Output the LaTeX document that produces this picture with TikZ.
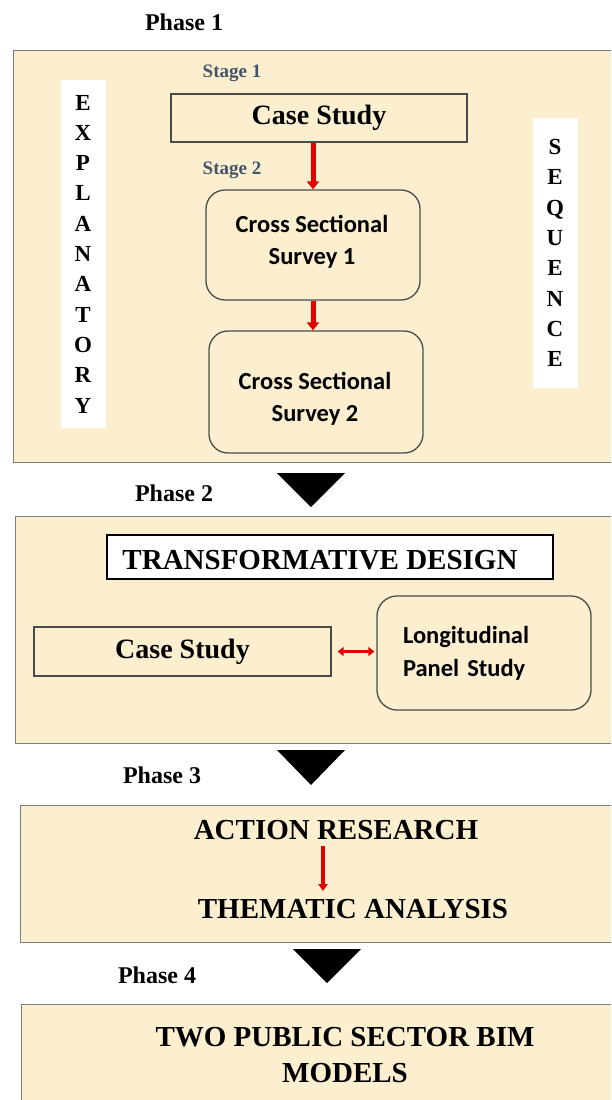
\documentclass[tikz,border=0pt]{standalone}
\usepackage{fontspec}
\setmainfont{Liberation Serif}
\newfontfamily\calibsans{Carlito}
\usetikzlibrary{arrows.meta}
\definecolor{panelfill}{RGB}{252,239,208}
\definecolor{panelline}{RGB}{125,125,125}
\definecolor{boxline}{RGB}{75,75,75}
\definecolor{stagecol}{RGB}{68,84,106}
\definecolor{arrowred}{RGB}{226,0,0}
\begin{document}
\begin{tikzpicture}[x=1pt,y=-1pt,
  phasebox/.style={draw=panelline, line width=1.4pt, fill=panelfill, anchor=north west, inner sep=0pt, minimum width=610pt},
  phaselabel/.style={font=\fontsize{24}{28}\selectfont\bfseries, inner sep=0pt},
  stagelabel/.style={font=\fontsize{19}{22}\selectfont\bfseries, text=stagecol, inner sep=0pt},
  plainbox/.style={draw=boxline, line width=1.3pt, inner sep=0pt},
  roundbox/.style={draw=boxline, line width=1.3pt, rounded corners=19pt, inner sep=0pt},
  sanstext/.style={font=\calibsans\fontsize{24.5}{32.5}\selectfont\bfseries, align=center, inner sep=0pt},
  bigserif/.style={font=\fontsize{28}{33}\selectfont\bfseries},
  capserif/.style={font=\fontsize{29}{36}\selectfont\bfseries, align=center, inner sep=0pt},
  vstrip/.style={fill=white, inner sep=0pt, minimum width=45pt, align=center,
    font=\fontsize{23}{30.3}\selectfont\bfseries},
  redarrow/.style={draw=arrowred, line width=5pt, -{Triangle[width=12pt,length=8pt]}},
  redthin/.style={draw=arrowred, line width=3.5pt, -{Triangle[width=9pt,length=7pt]}},
  redboth/.style={draw=arrowred, line width=3.5pt, {Triangle[width=9pt,length=6pt]}-{Triangle[width=9pt,length=6pt]}},
  phasetip/.style={fill=black}
]
\useasboundingbox (0,0) rectangle (611,1100);
\clip (0,0) rectangle (611,1100);

% ---- Phase 1 ----
\node[phaselabel] (l1) at (184,22) {Phase 1};
\node[phasebox, minimum height=412pt] (p1) at (13,50) {};
\node[stagelabel] (s1) at (232,73) {Stage 1};
\node[plainbox, bigserif, minimum width=296pt, minimum height=48pt] (cs1) at (319,118) {Case Study};
\node[stagelabel] (s2) at (232,170) {Stage 2};
\node[roundbox, minimum width=214pt, minimum height=110pt] (css1) at (313,245) {};
\node[sanstext] (css1t) at (312,242) {Cross Sectional\\Survey 1};
\node[roundbox, minimum width=214pt, minimum height=122pt] (css2) at (316,392) {};
\node[sanstext] (css2t) at (315,399) {Cross Sectional\\Survey 2};
\node[vstrip, minimum height=348pt] (expl) at (83,254) {E\\X\\P\\L\\A\\N\\A\\T\\O\\R\\Y};
\node[vstrip, minimum height=270pt] (seq) at (555,253) {S\\E\\Q\\U\\E\\N\\C\\E};
\draw[redarrow] (css1.north |- cs1.south) -- (css1.north);
\draw[redarrow] (css1.south) -- (css1.south |- css2.north);

% ---- Phase 2 ----
\fill[phasetip] (277,473) -- (345,473) -- (311,507) -- cycle;
\node[phaselabel] (l2) at (174,493) {Phase 2};
\node[phasebox, minimum height=227pt] (p2) at (15,516) {};
\node[draw=black, line width=1.3pt, fill=white, inner sep=0pt, minimum width=446pt, minimum height=44pt] (td) at (330,557) {};
\node[capserif] (tdt) at (320,560) {TRANSFORMATIVE DESIGN};
\node[plainbox, bigserif, minimum width=297pt, minimum height=49pt] (cs2) at (182.5,651.5) {Case Study};
\node[draw=boxline, line width=1.3pt, rounded corners=20pt, inner ysep=0pt, inner xsep=26pt,
  text width=162pt, minimum height=114pt, align=left,
  font=\calibsans\fontsize{24.5}{33}\selectfont\bfseries] (lps) at (484,653) {Longitudinal\\Panel Study};
\draw[redboth] ([xshift=6pt]cs2.east) -- ([xshift=-2pt]lps.west |- cs2.east);

% ---- Phase 3 ----
\fill[phasetip] (277,750) -- (345,750) -- (311,785) -- cycle;
\node[phaselabel] (l3) at (162,775) {Phase 3};
\node[phasebox, minimum height=137pt] (p3) at (20,805) {};
\node[capserif] (ar) at (336,830) {ACTION RESEARCH};
\node[capserif] (ta) at (353,909) {THEMATIC ANALYSIS};
\draw[redthin, shorten >=8pt] ([xshift=-13pt,yshift=-6pt]ar.south) -- ([xshift=-13pt]ar.south |- ta.north);

% ---- Phase 4 ----
\fill[phasetip] (293,949) -- (361,949) -- (327,983) -- cycle;
\node[phaselabel] (l4) at (157,975) {Phase 4};
\node[phasebox, minimum height=120pt] (p4) at (21,1004) {};
\node[capserif] (bim) at (345,1055) {TWO PUBLIC SECTOR BIM\\MODELS};
\end{tikzpicture}
\end{document}
